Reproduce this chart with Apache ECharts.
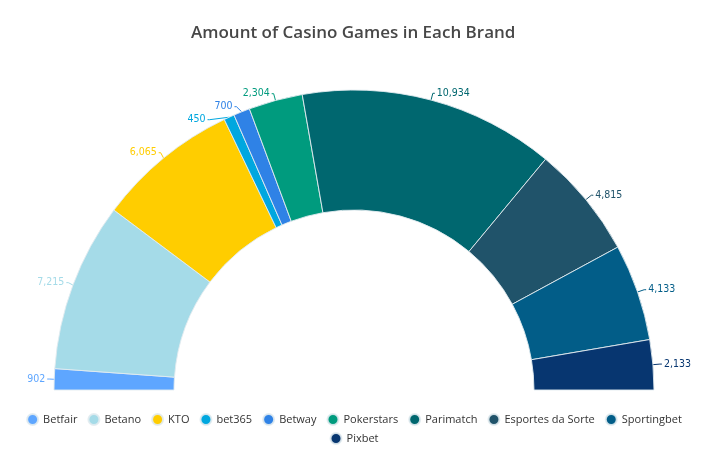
<!DOCTYPE html>
<html><head><meta charset="utf-8">
<script src="https://cdn.jsdelivr.net/npm/echarts@6/dist/echarts.min.js"></script>
<style>html,body{margin:0;padding:0;background:#fff}#c{width:708px;height:463px}</style>
</head><body><div id="c"></div>
<script>
const brands = ['Betfair','Betano','KTO','bet365','Betway','Pokerstars','Parimatch','Esportes da Sorte','Sportingbet','Pixbet'];
const games = [902,7215,6065,450,700,2304,10934,4815,4133,2133];
const colors = ['#5ea6ff','#a5dbe8','#ffcd00','#00a7df','#2f82e6','#009b7e','#00676f','#20536a','#025d88','#073670'];

const legendBase = {left:'center',icon:'circle',itemWidth:11,itemHeight:11,itemGap:10,
  textStyle:{fontFamily:'Open Sans',fontSize:11,color:'#333'}};

const chart = echarts.init(document.getElementById('c'));
chart.setOption({
  backgroundColor:'#fff',
  title:{text:'Amount of Casino Games in Each Brand',left:186,top:20,
    textStyle:{fontFamily:'Open Sans',fontSize:17,fontWeight:600,color:'#474747'}},
  legend:[
    Object.assign({data:brands.slice(0,9),top:408},legendBase),
    Object.assign({data:brands.slice(9),top:427},legendBase)
  ],
  series:[{
    type:'pie',center:[354,390],radius:[180,300],startAngle:180,endAngle:0,clockwise:true,
    avoidLabelOverlap:true,
    itemStyle:{borderColor:'rgba(225,235,240,0.9)',borderWidth:1},
    label:{show:true,position:'outside',formatter:p=>p.value.toLocaleString('en-US'),
      fontFamily:'DejaVu Sans Condensed',fontSize:10.5,color:'inherit',distanceToLabelLine:2},
    labelLine:{show:true,length:7,length2:2,lineStyle:{width:1}},
    data:brands.map((b,i)=>({name:b,value:games[i],itemStyle:{color:colors[i]},label:{color:colors[i]}}))
  }]
});
</script></body></html>
